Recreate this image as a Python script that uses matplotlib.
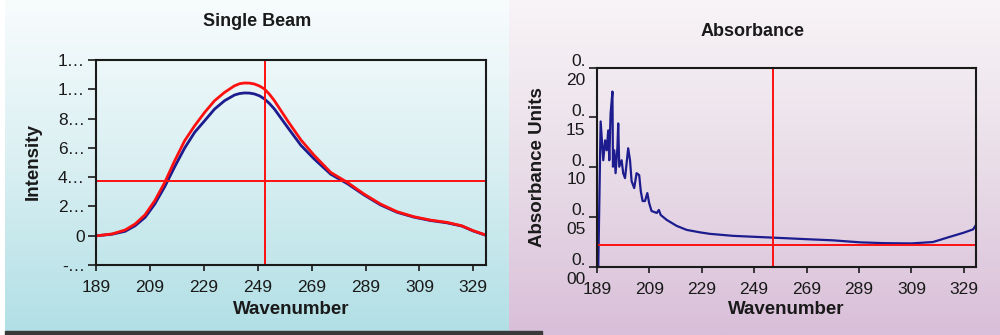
import numpy as np
import matplotlib.pyplot as plt
from matplotlib.colors import LinearSegmentedColormap
from matplotlib.patches import Rectangle

plt.rcParams['font.family'] = ['Liberation Sans', 'DejaVu Sans']

# region data
# single beam: sample (red) and reference (blue) intensity, in units of 10000
sb_wavenumber = [189.5, 194.9, 199.8, 203.5, 207.2, 210.8, 214.5, 218.2, 221.9, 225.6,
                 229.3, 233.0, 236.7, 240.4, 242.3, 244.1, 246.0, 247.8, 249.7, 251.5,
                 253.4, 255.2, 260.1, 265.0, 269.9, 276.1, 282.3, 288.4, 294.6, 300.7,
                 306.9, 313.0, 319.2, 324.7, 329.0, 333.3]
sb_sample = [0.0, 0.012, 0.039, 0.08, 0.143, 0.239, 0.364, 0.512, 0.649, 0.751,
             0.842, 0.922, 0.979, 1.024, 1.038, 1.043, 1.042, 1.036, 1.022, 1.002,
             0.965, 0.922, 0.785, 0.655, 0.55, 0.432, 0.364, 0.285, 0.216, 0.164,
             0.13, 0.107, 0.091, 0.068, 0.034, 0.007]
sb_reference = [0.0, 0.01, 0.03, 0.068, 0.125, 0.216, 0.335, 0.471, 0.599, 0.706,
                0.785, 0.865, 0.922, 0.961, 0.971, 0.975, 0.974, 0.968, 0.955, 0.934,
                0.902, 0.865, 0.74, 0.618, 0.525, 0.42, 0.355, 0.279, 0.21, 0.16,
                0.127, 0.104, 0.088, 0.066, 0.032, 0.005]
sb_cursor_x, sb_cursor_y = 251.8, 0.373

abs_wavenumber = [189.6, 190.5, 191.5, 192.2, 192.8, 193.4, 193.8, 194.3, 195.0, 195.2,
                  195.7, 196.2, 196.9, 197.2, 197.6, 198.5, 199.1, 199.8, 200.4, 201.0,
                  201.7, 202.3, 203.3, 204.2, 205.2, 205.8, 206.5, 207.4, 208.3, 209.0,
                  209.9, 211.9, 212.7, 213.4, 215.7, 219.5, 223.3, 228.4, 232.2, 241.0,
                  256.3, 270.3, 279.1, 289.3, 298.2, 304.5, 309.0, 317.2, 323.6, 328.7,
                  332.5, 333.6]
abs_units = [0.0, 0.146, 0.107, 0.127, 0.117, 0.137, 0.107, 0.154, 0.176, 0.1005,
             0.117, 0.094, 0.12, 0.144, 0.1005, 0.107, 0.094, 0.089, 0.104, 0.119,
             0.107, 0.086, 0.079, 0.094, 0.092, 0.076, 0.066, 0.066, 0.074, 0.064,
             0.056, 0.054, 0.057, 0.052, 0.047, 0.041, 0.037, 0.0345, 0.033, 0.031,
             0.0292, 0.0275, 0.0265, 0.0245, 0.0237, 0.0235, 0.0234, 0.0248, 0.030, 0.034,
             0.0375, 0.042]
abs_cursor_x, abs_cursor_y = 256.3, 0.0215

x_ticks = [189, 209, 229, 249, 269, 289, 309, 329]
sb_yticks = [-0.2, 0.0, 0.2, 0.4, 0.6, 0.8, 1.0, 1.2]
sb_yticklabels = ['-\u2026', '0', '2\u2026', '4\u2026', '6\u2026', '8\u2026', '1\u2026', '1\u2026']
abs_yticks = [0.0, 0.05, 0.10, 0.15, 0.20]
abs_yticklabels = ['0.\n00', '0.\n05', '0.\n10', '0.\n15', '0.\n20']
# endregion

W, H = 1000, 335
fig = plt.figure(figsize=(W / 100, H / 100), dpi=100)

# region backgrounds
bg = fig.add_axes([0, 0, 1, 1], zorder=-10)
bg.axis('off')
grad = np.linspace(0, 1, 256)[:, None]
left_cmap = LinearSegmentedColormap.from_list('left', ['#f8fcfd', '#d9eff2', '#b0dfe5'])
right_cmap = LinearSegmentedColormap.from_list('right', ['#f8f4f7', '#e9dde8', '#d9bfd9'])
bg.imshow(grad, cmap=left_cmap, extent=(5, 509, H, 0), aspect='auto')
bg.imshow(grad, cmap=right_cmap, extent=(509, W, H, 0), aspect='auto')
bg.add_patch(Rectangle((5, 331), 537, 4, color='#3a3a3a'))
bg.set_xlim(0, W)
bg.set_ylim(H, 0)
# endregion

text_col = '#1a1a1a'
navy = '#1c1c8e'
red = '#ff1010'


def style_axes(ax):
    ax.set_facecolor('none')
    for s in ax.spines.values():
        s.set_linewidth(1.5)
        s.set_color('#1a1a1a')
    ax.tick_params(axis='x', length=4, width=1.2, pad=7, labelsize=12.5, colors=text_col)
    ax.tick_params(axis='y', length=6, width=1.2, pad=2, labelsize=12.5, colors=text_col)
    ax.set_xticks(x_ticks)


def fx(px):
    return px / W


def fy(py):
    return 1 - py / H


# region single beam
ax1 = fig.add_axes([fx(96), fy(265), fx(486 - 96), (265 - 60) / H])
style_axes(ax1)
ax1.plot(sb_wavenumber, sb_reference, color=navy, lw=2)
ax1.plot(sb_wavenumber, sb_sample, color=red, lw=2)
ax1.axvline(sb_cursor_x, color=red, lw=1.4)
ax1.axhline(sb_cursor_y, color=red, lw=1.4)
ax1.set_xlim(189, 333.7)
ax1.set_ylim(-0.2, 1.2)
ax1.set_yticks(sb_yticks)
ax1.set_yticklabels(sb_yticklabels)
fig.text(fx(257), fy(22), 'Single Beam', ha='center', va='center', fontsize=13, fontweight='bold', color=text_col)
fig.text(fx(291), fy(309), 'Wavenumber', ha='center', va='center', fontsize=13.5, fontweight='bold', color=text_col)
fig.text(fx(33), fy(162), 'Intensity', ha='center', va='center', rotation=90, fontsize=13.5, fontweight='bold', color=text_col)
# endregion

# region absorbance
ax2 = fig.add_axes([fx(596.7), fy(266.7), fx(976 - 596.7), (266.7 - 67.7) / H])
style_axes(ax2)
ax2.plot(abs_wavenumber, abs_units, color=navy, lw=1.6)
ax2.axvline(abs_cursor_x, color=red, lw=1.4)
ax2.axhline(abs_cursor_y, color=red, lw=1.4)
ax2.set_xlim(189, 333.6)
ax2.set_ylim(0, 0.2)
ax2.set_yticks(abs_yticks)
ax2.set_yticklabels(abs_yticklabels, linespacing=1.3)
fig.text(fx(753), fy(31), 'Absorbance', ha='center', va='center', fontsize=13, fontweight='bold', color=text_col)
fig.text(fx(786), fy(310), 'Wavenumber', ha='center', va='center', fontsize=13.5, fontweight='bold', color=text_col)
fig.text(fx(537), fy(167), 'Absorbance Units', ha='center', va='center', rotation=90, fontsize=13.5, fontweight='bold', color=text_col)
# endregion

fig.savefig('out.png', dpi=100)
